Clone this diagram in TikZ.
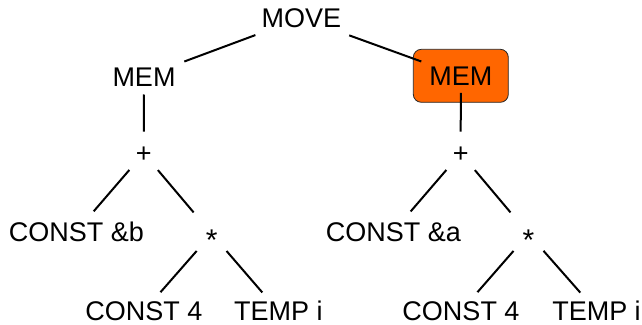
\documentclass[tikz,border=0pt]{standalone}
\usepackage{fontspec}
\setmainfont{Liberation Sans}
\definecolor{memorange}{RGB}{255,102,0}
\begin{document}
\begin{tikzpicture}[x=1pt,y=-1pt,
  lbl/.style={font=\fontsize{27}{32}\selectfont, inner sep=0pt, text height=19.3pt, text depth=0pt},
  starlbl/.style={lbl, font=\fontsize{30}{34}\selectfont, text height=34pt},
  membox/.style={lbl, draw=black!85, line width=0.8pt, fill=memorange, rounded corners=8pt, minimum width=95pt, minimum height=53pt},
  edge/.style={line width=2pt, black}]
\useasboundingbox (0,0) rectangle (642,324);
% nodes
\node[lbl] (move) at (301.3,18) {MOVE};
\node[lbl] (memL) at (144,76.5) {MEM};
\node[membox] (memR) at (460.8,75.8) {MEM};
\node[lbl] (plusL) at (143.7,153.3) {+};
\node[lbl] (plusR) at (460.7,153.3) {+};
\node[lbl] (cb) at (76.3,231.5) {CONST \&b};
\node[lbl] (ca) at (393.3,231.6) {CONST \&a};
\node[starlbl] (starL) at (211.7,233.8) {*};
\node[starlbl] (starR) at (528.5,233.8) {*};
\node[lbl] (c4L) at (144,311) {CONST 4};
\node[lbl] (tiL) at (278.3,311) {TEMP i};
\node[lbl] (c4R) at (461,311) {CONST 4};
\node[lbl] (tiR) at (596.5,311) {TEMP i};
% connectors
\draw[edge, shorten <=49pt, shorten >=43pt] (move.center) -- (memL.center);
\draw[edge, shorten <=51pt, shorten >=42pt] (move.center) -- (memR.center);
\draw[edge, shorten <=18pt, shorten >=21.6pt] (memL.center) -- (plusL.center);
\draw[edge, shorten <=17pt, shorten >=21.6pt] (memR.center) -- (plusR.center);
\draw[edge, shorten <=22pt, shorten >=26.6pt] (plusL.center) -- (cb.center);
\draw[edge, shorten <=22pt, shorten >=28pt] (plusL.center) -- (starL.center);
\draw[edge, shorten <=22pt, shorten >=26.6pt] (plusR.center) -- (ca.center);
\draw[edge, shorten <=22pt, shorten >=28pt] (plusR.center) -- (starR.center);
\draw[edge, shorten <=22.8pt, shorten >=25pt] (starL.center) -- (c4L.center);
\draw[edge, shorten <=22.7pt, shorten >=24.5pt] (starL.center) -- (tiL.center);
\draw[edge, shorten <=22.8pt, shorten >=25pt] (starR.center) -- (c4R.center);
\draw[edge, shorten <=22.7pt, shorten >=24.5pt] (starR.center) -- (tiR.center);
\end{tikzpicture}
\end{document}
